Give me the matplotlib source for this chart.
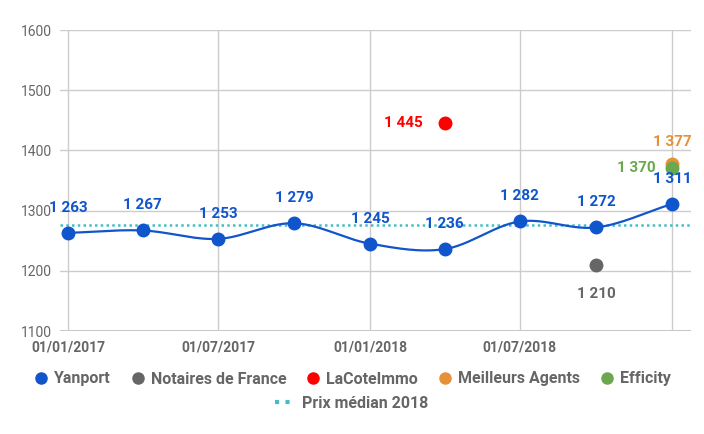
import matplotlib.pyplot as plt
import matplotlib.dates as mdates
from matplotlib.lines import Line2D
import numpy as np
from datetime import date

plt.rcParams['font.family'] = ['Roboto', 'DejaVu Sans']

# data
dates_yan = [date(2017, 1, 1), date(2017, 4, 1), date(2017, 7, 1), date(2017, 10, 1),
             date(2018, 1, 1), date(2018, 4, 1), date(2018, 7, 1), date(2018, 10, 1),
             date(2019, 1, 1)]
yanport = [1263, 1267, 1253, 1279, 1245, 1236, 1282, 1272, 1311]
notaires_date, notaires = date(2018, 10, 1), 1210
lacote_date, lacote = date(2018, 4, 1), 1445
meilleurs_date, meilleurs = date(2019, 1, 1), 1377
efficity_date, efficity = date(2019, 1, 1), 1370
median_2018 = 1276
xtick_dates = [date(2017, 1, 1), date(2017, 7, 1), date(2018, 1, 1), date(2018, 7, 1), date(2019, 1, 1)]
xtick_labels = ["01/01/2017", "01/07/2017", "01/01/2018", "01/07/2018", ""]
yticks = [1100, 1200, 1300, 1400, 1500, 1600]

BLUE = "#1155cc"
GREY = "#666666"
RED = "#ff0000"
ORANGE = "#e69138"
GREEN = "#6aa84f"
TEAL = "#46bdc6"
TXT = "#666666"


def fmt(v):
    s = f"{v:,}".replace(",", " ")
    return s


def catmull(x, y, n=30):
    x = np.asarray(x, float)
    y = np.asarray(y, float)
    xs, ys = [], []
    for i in range(len(x) - 1):
        x0, x1 = x[i], x[i + 1]
        y0, y1 = y[i], y[i + 1]
        m0 = (y[i + 1] - y[i - 1]) / (x[i + 1] - x[i - 1]) if i > 0 else (y1 - y0) / (x1 - x0)
        m1 = (y[i + 2] - y[i]) / (x[i + 2] - x[i]) if i < len(x) - 2 else (y1 - y0) / (x1 - x0)
        t = np.linspace(0, 1, n)
        h = x1 - x0
        h00 = 2 * t**3 - 3 * t**2 + 1
        h10 = t**3 - 2 * t**2 + t
        h01 = -2 * t**3 + 3 * t**2
        h11 = t**3 - t**2
        xs.append(x0 + t * h)
        ys.append(h00 * y0 + h10 * h * m0 + h01 * y1 + h11 * h * m1)
    return np.concatenate(xs), np.concatenate(ys)


fig = plt.figure(figsize=(7.04, 4.34), dpi=100)
ax = fig.add_axes([60 / 704, 1 - 331 / 434, 631 / 704, 301 / 434])

xn = mdates.date2num(dates_yan)
sx, sy = catmull(xn, yanport)
ax.plot(sx, sy, color=BLUE, lw=1.6, zorder=3)
ax.plot(xn, yanport, 'o', color=BLUE, ms=9, zorder=4)
for x, v in zip(xn, yanport):
    ax.annotate(fmt(v), (x, v), xytext=(0, 13), textcoords='offset points',
                ha='center', va='bottom', color=BLUE, fontsize=11, fontweight='bold', zorder=5)

ax.axhline(median_2018, color=TEAL, lw=1.8, ls=(0, (1, 1.3)), zorder=2)

pts = [(notaires_date, notaires, GREY, (0, -16), 'center', 'top'),
       (lacote_date, lacote, RED, (-16, 0), 'right', 'center'),
       (meilleurs_date, meilleurs, ORANGE, (0, 11), 'center', 'bottom'),
       (efficity_date, efficity, GREEN, (-12, 0), 'right', 'center')]
for d, v, c, off, ha, va in pts:
    x = mdates.date2num(d)
    ax.plot([x], [v], 'o', color=c, ms=9, zorder=4)
    ax.annotate(fmt(v), (x, v), xytext=off, textcoords='offset points',
                ha=ha, va=va, color=c, fontsize=11, fontweight='bold', zorder=5)

ax.set_xlim(mdates.date2num(date(2016, 12, 22)), mdates.date2num(date(2019, 1, 24)))
ax.set_ylim(1100, 1600)
ax.set_yticks(yticks)
ax.set_xticks(mdates.date2num(xtick_dates))
ax.set_xticklabels(xtick_labels, fontweight='bold', color=TXT, fontsize=10)
ax.tick_params(axis='x', length=0, pad=7)
ax.tick_params(axis='y', length=0, pad=6, labelcolor=TXT, labelsize=10)
ax.grid(True, color="#cccccc", lw=1)
for s in ax.spines.values():
    s.set_visible(False)
ax.axhline(1100, color="#bbbbbb", lw=1.2, zorder=1)

handles = [Line2D([], [], marker='o', ls='', color=c, ms=8) for c in [BLUE, GREY, RED, ORANGE, GREEN]]
names = ["Yanport", "Notaires de France", "LaCoteImmo", "Meilleurs Agents", "Efficity"]
leg1 = fig.legend(handles, names, loc='center', bbox_to_anchor=(0.5, 1 - 379 / 434), ncol=5,
                  frameon=False, handletextpad=0.3, columnspacing=1.2, handlelength=1.0,
                  prop={'weight': 'bold', 'size': 11.5})
for t in leg1.get_texts():
    t.set_color(TXT)
h2 = [Line2D([], [], color=TEAL, lw=3, ls=(0, (1, 1.5)))]
leg2 = fig.legend(h2, ["Prix médian 2018"], loc='center', bbox_to_anchor=(0.5, 1 - 403 / 434),
                  frameon=False, handletextpad=0.5, handlelength=1.2,
                  prop={'weight': 'bold', 'size': 11.5})
for t in leg2.get_texts():
    t.set_color(TXT)

fig.savefig("out.png", dpi=100)
